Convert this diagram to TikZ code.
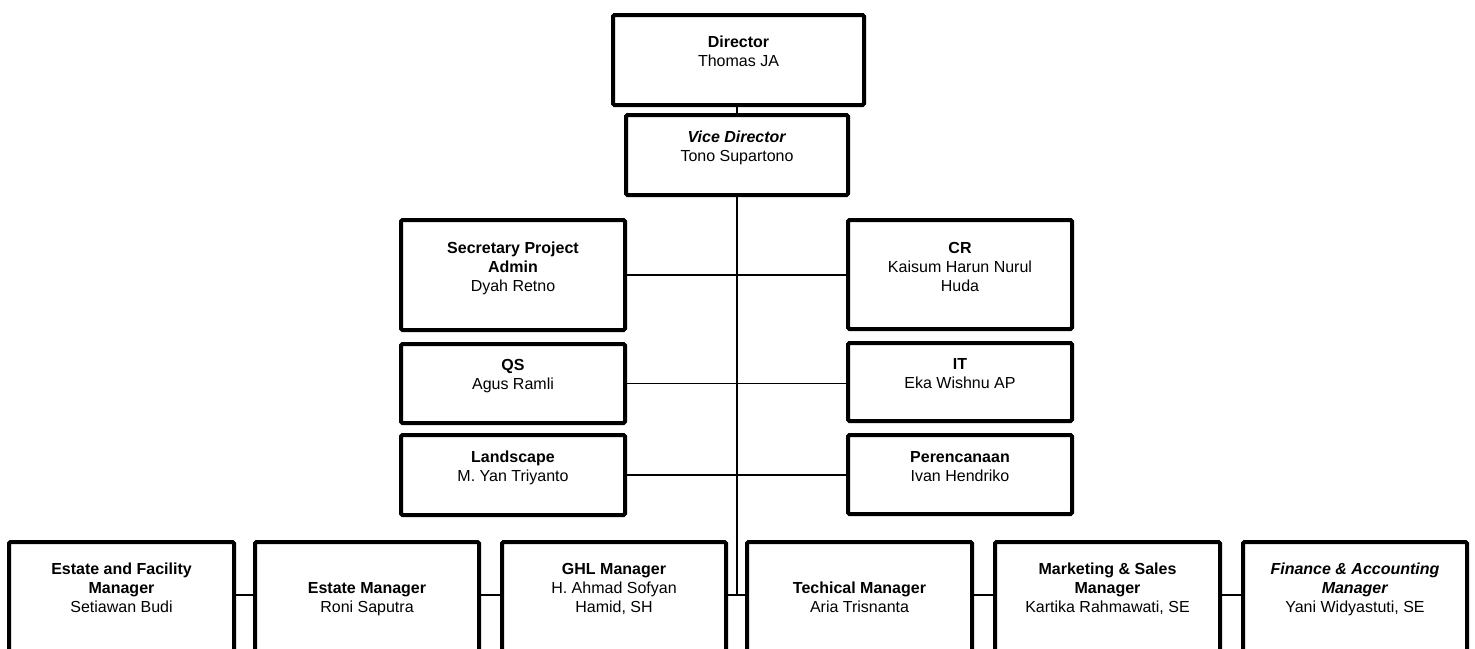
\documentclass[tikz,border=0pt]{standalone}
\usepackage{fontspec}
\setmainfont{Liberation Sans}
\tikzset{
  orgbox/.style={draw=black, fill=white, line width=4pt, rounded corners=1.5pt, inner sep=0pt},
  lbl/.style={align=center, inner sep=0pt, font=\fontsize{16}{18.9}\selectfont},
  conn/.style={draw=black, line width=1.3pt}
}
\newcommand\obox[7]{%
  \node[orgbox, minimum width={#4-#2-4}, minimum height={#5-#3-4}] (#1) at ({(#2+#4)/2},{(#3+#5)/2}) {};
  \node[lbl, anchor=north] (#1-t) at ({(#2+#4)/2},{#6-12}) {\rule{0pt}{12pt}#7};
}
\begin{document}
\begin{tikzpicture}[x=1pt,y=-1pt]
\useasboundingbox (0,0) rectangle (1475,648);
\clip (0,0) rectangle (1475,648);
\coordinate (bus) at (737,595);
% connectors first (drawn beneath boxes)
\obox{dir}{611}{13}{866}{107}{47}{\textbf{Director}\\Thomas JA}
\obox{vice}{624}{113}{850}{197}{142}{\textbf{\textit{Vice Director}}\\Tono Supartono}
\obox{sec}{399}{218}{627}{332}{253}{\textbf{Secretary Project}\\\textbf{Admin}\\Dyah Retno}
\obox{cr}{846}{218}{1074}{331}{253}{\textbf{CR}\\Kaisum Harun Nurul\\Huda}
\obox{qs}{399}{342}{627}{425}{370}{\textbf{QS}\\Agus Ramli}
\obox{it}{846}{341}{1074}{423}{369}{\textbf{IT}\\Eka Wishnu AP}
\obox{land}{399}{433}{627}{517}{462}{\textbf{Landscape}\\M. Yan Triyanto}
\obox{per}{846}{433}{1074}{516}{462}{\textbf{Perencanaan}\\Ivan Hendriko}
\obox{ef}{7}{540}{236}{690}{574}{\textbf{Estate and Facility}\\\textbf{Manager}\\Setiawan Budi}
\obox{em}{253}{540}{481}{690}{593}{\textbf{Estate Manager}\\Roni Saputra}
\obox{ghl}{500}{540}{728}{690}{574}{\textbf{GHL Manager}\\H. Ahmad Sofyan\\Hamid, SH}
\obox{tech}{745}{540}{974}{690}{593}{\textbf{Techical Manager}\\Aria Trisnanta}
\obox{mk}{993}{540}{1222}{690}{574}{\textbf{Marketing \& Sales}\\\textbf{Manager}\\Kartika Rahmawati, SE}
\obox{fin}{1241}{540}{1469}{690}{574}{\textbf{\textit{Finance \& Accounting}}\\\textbf{\textit{Manager}}\\Yani Widyastuti, SE}
% connectors
\draw[conn] (vice.north) -- (vice.north |- dir.south);
\draw[conn] (vice.south) -- (bus);
\draw[conn] (sec.east) -- (sec.east -| cr.west);
\draw[conn] (qs.east) -- (qs.east -| it.west);
\draw[conn] (land.east) -- (land.east -| per.west);
\draw[conn] (ef.east |- bus) -- (em.west |- bus);
\draw[conn] (em.east |- bus) -- (ghl.west |- bus);
\draw[conn] (ghl.east |- bus) -- (tech.west |- bus);
\draw[conn] (tech.east |- bus) -- (mk.west |- bus);
\draw[conn] (mk.east |- bus) -- (fin.west |- bus);
\end{tikzpicture}
\end{document}
